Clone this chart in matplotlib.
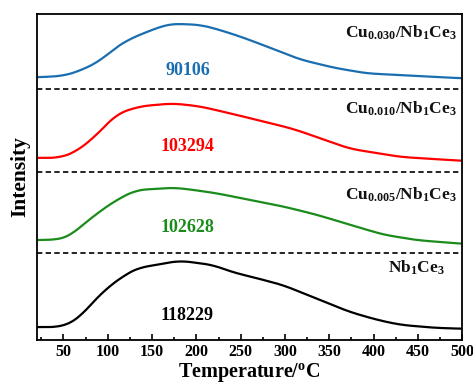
import numpy as np
import matplotlib
matplotlib.use("Agg")
import matplotlib.pyplot as plt
from matplotlib.ticker import MultipleLocator

plt.rcParams["font.family"] = ["Liberation Serif", "DejaVu Serif"]
plt.rcParams["font.weight"] = "bold"
plt.rcParams["mathtext.fontset"] = "custom"
plt.rcParams["mathtext.rm"] = "Liberation Serif:bold"
plt.rcParams["mathtext.bf"] = "Liberation Serif:bold"
plt.rcParams["mathtext.it"] = "Liberation Serif:bold"

# H2-TPR profiles, intensity above each sample's own baseline (a.u.)
temp_black = [20, 45, 57, 68, 79, 98, 121, 136, 151, 166, 181, 196, 219, 241,
              264, 298, 336, 373, 404, 430, 468, 500]
int_black = [0, 0, 3.6, 9.5, 21, 38.6, 53.6, 60.3, 62, 64.6, 67, 65.3, 62.6,
             55.3, 50.3, 42.3, 28.6, 15.3, 7.3, 2.3, -0.7, -1.7]

temp_green = [20, 45, 57, 72, 91, 110, 132, 147, 173, 189, 223, 260, 298, 336,
              373, 411, 449, 500]
int_green = [0, 0.7, 4, 15.6, 29, 40.6, 50.6, 51.3, 53, 51.6, 47.3, 40.6,
             34, 25.6, 15.6, 5.6, 0, -3.7]

temp_red = [20, 45, 64, 87, 94, 110, 136, 173, 204, 241, 279, 309, 336, 373,
            430, 500]
int_red = [0, 0, 6, 22.6, 29.3, 44.3, 52, 55, 52, 44.3, 36, 29.3, 21,
           9.3, 1, -3]

temp_blue = [20, 49, 68, 91, 106, 121, 143, 166, 173, 204, 223, 249, 279, 317,
             355, 392, 449, 500]
int_blue = [0, 1.3, 6.3, 16.3, 28, 37, 45.5, 53, 54, 53, 48.7, 41.3, 31.3,
            18, 9.7, 4, 1.3, -1]

names = [r"$\mathrm{Nb_{1}Ce_{3}}$",
         r"$\mathrm{Cu_{0.005}/Nb_{1}Ce_{3}}$",
         r"$\mathrm{Cu_{0.010}/Nb_{1}Ce_{3}}$",
         r"$\mathrm{Cu_{0.030}/Nb_{1}Ce_{3}}$"]
areas = ["118229", "102628", "103294", "90106"]
colors = ["black", "#1b8c1b", "red", "#1a6eb0"]
offsets = [13.0, 100.7, 183.7, 265.0]
name_y = [73, 146, 233, 310]
name_x = [480, 494, 494, 494]
area_y = [25, 113, 195, 272]
separators = [88, 169, 253]

profiles = [(temp_black, int_black), (temp_green, int_green),
            (temp_red, int_red), (temp_blue, int_blue)]

fig = plt.figure(figsize=(4.73, 3.85), dpi=100)
ax = fig.add_axes([0.078, 0.117, 0.899, 0.847])

for i, (t, y) in enumerate(profiles):
    tt = np.linspace(min(t), max(t), 480)
    yy = np.interp(tt, t, y)
    # smooth the piecewise profile
    n = 25
    yy = np.convolve(np.pad(yy, n // 2, mode="edge"), np.ones(n) / n, mode="valid")
    ax.plot(tt, yy + offsets[i], color=colors[i], lw=1.6)
    ax.text(name_x[i], name_y[i], names[i], ha="right", va="center",
            fontsize=12.5, color="#111111")
    ax.text(190, area_y[i], areas[i], ha="center", va="center", fontsize=13,
            fontweight="bold", color=colors[i])

for s in separators:
    ax.axhline(s, color="black", ls=(0, (3.2, 2)), lw=1.2)

ax.set_xlim(20, 500)
ax.set_ylim(0, 329)
ax.set_yticks([])
ax.xaxis.set_major_locator(MultipleLocator(50))
ax.xaxis.set_minor_locator(MultipleLocator(25))
ax.tick_params(axis="x", which="both", direction="in", width=1.2, labelsize=11.5, pad=3)
ax.tick_params(axis="x", which="major", length=4)
ax.tick_params(axis="x", which="minor", length=2.5)
for sp in ax.spines.values():
    sp.set_linewidth(1.3)
ax.set_xticks([50, 100, 150, 200, 250, 300, 350, 400, 450, 500])
ax.set_xlabel(r"Temperature/$\mathrm{^{o}}$C", fontsize=14.5, fontweight="bold", labelpad=0.5)
ax.set_ylabel("Intensity", fontsize=15.5, fontweight="bold", labelpad=5)

fig.savefig("out.png", dpi=100)
